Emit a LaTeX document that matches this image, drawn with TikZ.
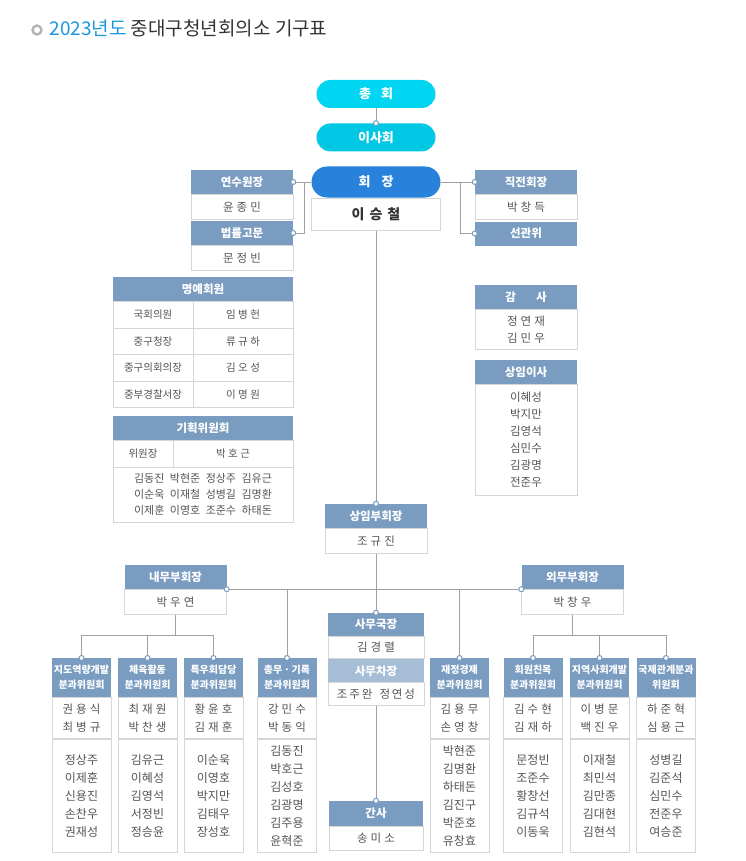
\documentclass[tikz,border=0pt]{standalone}
\usepackage{fontspec}
\setmainfont{Noto Sans CJK KR}
\usepackage{tikz}
\usetikzlibrary{positioning, calc}
\definecolor{head_blue}{RGB}{122,156,192}
\definecolor{head_light}{RGB}{166,189,214}
\definecolor{pill_cyan}{RGB}{0,214,242}
\definecolor{pill_teal}{RGB}{0,200,228}
\definecolor{chair_blue}{RGB}{40,130,220}
\definecolor{frame_gray}{RGB}{214,214,214}
\definecolor{line_gray}{RGB}{160,160,160}
\definecolor{name_gray}{RGB}{85,85,85}
\definecolor{name_dark}{RGB}{51,51,51}
\definecolor{title_blue}{RGB}{30,150,222}
\definecolor{icon_gray}{RGB}{180,180,180}
\tikzset{
  pill_box/.style={rectangle, rounded corners=14pt, inner sep=0pt, minimum width=119, minimum height=28, text=white, font=\fontsize{13}{15}\selectfont\bfseries},
  head_box/.style={rectangle, fill=head_blue, inner sep=0pt, minimum width=102, minimum height=24, text=white, font=\fontsize{11.5}{13}\selectfont\bfseries},
  body_box/.style={rectangle, draw=frame_gray, fill=white, line width=0.8pt, inner sep=0pt, minimum width=102, minimum height=25, text=name_gray, align=center, font=\fontsize{11.5}{17}\selectfont\spaceskip 3pt\relax},
  table_cell/.style={body_box, minimum height=26.5, anchor=north, font=\fontsize{10.5}{12}\selectfont\spaceskip 2.5pt\relax},
  list_box/.style={body_box, font=\fontsize{11.5}{17}\selectfont},
  cmte_head/.style={head_box, minimum width=59, minimum height=39, align=center, font=\fontsize{10}{15}\selectfont\bfseries},
  cmte_lead/.style={body_box, minimum width=59, minimum height=41, font=\fontsize{11.5}{18}\selectfont\spaceskip 3pt\relax},
  cmte_list/.style={body_box, minimum width=59, minimum height=113, font=\fontsize{12}{18}\selectfont},
  connect/.style={-, line_gray, line width=0.9pt},
  joint_dot/.style={circle, draw=head_blue, fill=white, line width=1pt, inner sep=0pt, minimum size=5pt}
}

\begin{document}
\begin{tikzpicture}[x=1pt, y=-1pt]
  \useasboundingbox (0,0) rectangle (746,861);

  % Title
  \node[circle, draw=icon_gray, line width=2.4pt, minimum size=9pt, inner sep=0pt] (title_dot) at (37,30) {};
  \node[anchor=west, text=name_dark, font=\fontsize{19}{22}\selectfont] (title) at (46,28.5) {\textcolor{title_blue}{2023년도} 중대구청년회의소 기구표};

  % Top
  \node[pill_box, fill=pill_cyan] (general) at (376,94) {총\hspace{10pt}회};
  \node[pill_box, fill=pill_teal, below=15pt of general] (board) {이사회};
  \node[pill_box, fill=chair_blue, minimum width=129, minimum height=31, rounded corners=15.5pt] (chair) at (376,182) {회\hspace{11pt}장};
  \node[body_box, minimum width=129, minimum height=32, below=0pt of chair, text=name_dark, font=\fontsize{14}{16}\selectfont\bfseries\spaceskip 5pt\relax] (chair_name) {이 승 철};

  % Advisors
  \node[head_box] (train_head) at (242,182) {연수원장};
  \node[body_box, below=0pt of train_head] (train_body) {윤 종 민};
  \node[head_box] (law_head) at (242,233) {법률고문};
  \node[body_box, below=0pt of law_head] (law_body) {문 정 빈};
  \node[head_box] (past_head) at (526,182) {직전회장};
  \node[body_box, below=0pt of past_head] (past_body) {박 창 득};
  \node[head_box] (elect_head) at (526,233.5) {선관위};

  \coordinate (left_bus) at ($(chair.west)+(-7,0)$);
  \coordinate (right_bus) at ($(chair.east)+(20,0)$);
  \draw[connect] (chair.west) -- (train_head.east);
  \draw[connect] (left_bus) |- (law_head.east);
  \draw[connect] (chair.east) -- (past_head.west);
  \draw[connect] (right_bus) |- (elect_head.west);
  \draw[connect] (general) -- (board);

  % Honorary members
  \node[head_box, minimum width=180] (hon_head) at (203,289) {명예회원};
  \foreach \role/\who [count=\i] in {국회의원/임 병 헌, 중구청장/류 규 하, 중구의회의장/김 오 성, 중부경찰서장/이 명 원} {
    \node[table_cell, minimum width=80] (hon_role_\i) at (153,{301+26.5*(\i-1)}) {\role};
    \node[table_cell, minimum width=100] (hon_name_\i) at (243,{301+26.5*(\i-1)}) {\who};
  }

  % Planning committee
  \node[head_box, minimum width=180] (plan_head) at (203,428) {기획위원회};
  \node[table_cell, minimum width=60] (plan_role) at (143,440) {위원장};
  \node[table_cell, minimum width=120] (plan_chief) at (233,440) {박 호 근};
  \node[table_cell, minimum width=180, minimum height=55, font=\fontsize{11}{16}\selectfont\spaceskip 5.5pt\relax] (plan_members) at (203,466.5)
    {김동진 박현준 정상주 김유근\\이순욱 이재철 성병길 김명환\\이제훈 이영호 조준수 하태돈};

  % Audit and standing directors
  \node[head_box] (audit_head) at (526,297) {감\hspace{20pt}사};
  \node[body_box, minimum height=40, below=0pt of audit_head] (audit_body) {정 연 재\\김 민 우};
  \node[head_box] (exec_head) at (526,372) {상임이사};
  \node[list_box, minimum height=111, below=0pt of exec_head] (exec_body) {이혜성\\박지만\\김영석\\심민수\\김광명\\전준우};

  % Vice presidents
  \node[head_box] (svp_head) at (376,516) {상임부회장};
  \node[body_box, below=0pt of svp_head] (svp_body) {조 규 진};
  \node[head_box] (vp_in_head) at (175.5,577) {내무부회장};
  \node[body_box, below=0pt of vp_in_head] (vp_in_body) {박 우 연};
  \node[head_box] (vp_out_head) at (572.5,577) {외무부회장};
  \node[body_box, below=0pt of vp_out_head] (vp_out_body) {박 창 우};

  % Secretariat
  \node[head_box, minimum width=96, minimum height=23] (sg_head) at (376,624.5) {사무국장};
  \node[body_box, minimum width=96, minimum height=22, below=0pt of sg_head] (sg_body) {김 경 렬};
  \node[head_box, fill=head_light, minimum width=96, minimum height=23, below=0pt of sg_body] (sg_sub_head) {사무차장};
  \node[body_box, minimum width=96, minimum height=23, below=0pt of sg_sub_head] (sg_sub_body) {조\,주\,완\hspace{7pt}정\,연\,성};
  \node[head_box, minimum width=94, minimum height=25] (staff_head) at (376,813.5) {간사};
  \node[body_box, minimum width=94, minimum height=24, below=0pt of staff_head] (staff_body) {송 미 소};

  % Committees
  \foreach \cx/\nm/\title/\leads/\members in {
    81.5/cm_guide/{지도역량개발\\분과위원회}/{권 용 식\\최 병 규}/{정상주\\이제훈\\신용진\\손찬우\\권재성},
    147.5/cm_sport/{체육활동\\분과위원회}/{최 재 원\\박 찬 생}/{김유근\\이혜성\\김영석\\서정빈\\정승윤},
    213.5/cm_senior/{특우회담당\\분과위원회}/{황 윤 호\\김 재 훈}/{이순욱\\이영호\\박지만\\김태우\\장성호},
    287/cm_admin/{총무\,·\,기록\\분과위원회}/{강 민 수\\박 동 익}/{김동진\\박호근\\김성호\\김광명\\김주용\\윤혁준},
    459.5/cm_finance/{재정경제\\분과위원회}/{김 용 무\\손 영 창}/{박현준\\김명환\\하태돈\\김진구\\박준호\\유창효},
    533/cm_member/{회원친목\\분과위원회}/{김 수 현\\김 재 하}/{문정빈\\조준수\\황창선\\김규석\\이동욱},
    599.5/cm_local/{지역사회개발\\분과위원회}/{이 병 문\\백 진 우}/{이재철\\최민석\\김만종\\김대현\\김현석},
    666/cm_intl/{국제관계분과\\위원회}/{하 준 혁\\심 용 근}/{성병길\\김준석\\심민수\\전준우\\여승준}} {
    \node[cmte_head, anchor=north] (\nm_head) at (\cx,658) {\title};
    \node[cmte_lead, below=0pt of \nm_head] (\nm_lead) {\leads};
    \node[cmte_list, below=0pt of \nm_lead] (\nm_list) {\members};
  }

  % Connectors
  \draw[connect] (chair_name.south) -- (svp_head.north);
  \draw[connect] (svp_body.south) -- (sg_head.north);
  \draw[connect] (sg_sub_body.south) -- (staff_head.north);
  \draw[connect] (vp_in_head.south east) -- (vp_out_head.south west);
  \draw[connect] (cm_admin_head.north) -- (cm_admin_head.north |- vp_in_head.south);
  \draw[connect] (cm_finance_head.north) -- (cm_finance_head.north |- vp_in_head.south);
  \coordinate (in_bus) at ($(vp_in_body.south)+(0,20)$);
  \coordinate (out_bus) at ($(vp_out_body.south)+(0,20)$);
  \draw[connect] (vp_in_body.south) -- (in_bus);
  \draw[connect] (vp_out_body.south) -- (out_bus);
  \foreach \nm in {cm_guide, cm_sport, cm_senior} {
    \draw[connect] (in_bus) -| (\nm_head.north);
  }
  \foreach \nm in {cm_member, cm_local, cm_intl} {
    \draw[connect] (out_bus) -| (\nm_head.north);
  }

  % Joints
  \foreach \pt [count=\k] in {board.north, train_head.east, law_head.east, past_head.west, elect_head.west, svp_head.north, vp_in_head.south east, vp_out_head.south west, sg_head.north, staff_head.north, cm_guide_head.north, cm_sport_head.north, cm_senior_head.north, cm_admin_head.north, cm_finance_head.north, cm_member_head.north, cm_local_head.north, cm_intl_head.north} {
    \node[joint_dot] (joint_\k) at (\pt) {};
  }
\end{tikzpicture}
\end{document}
